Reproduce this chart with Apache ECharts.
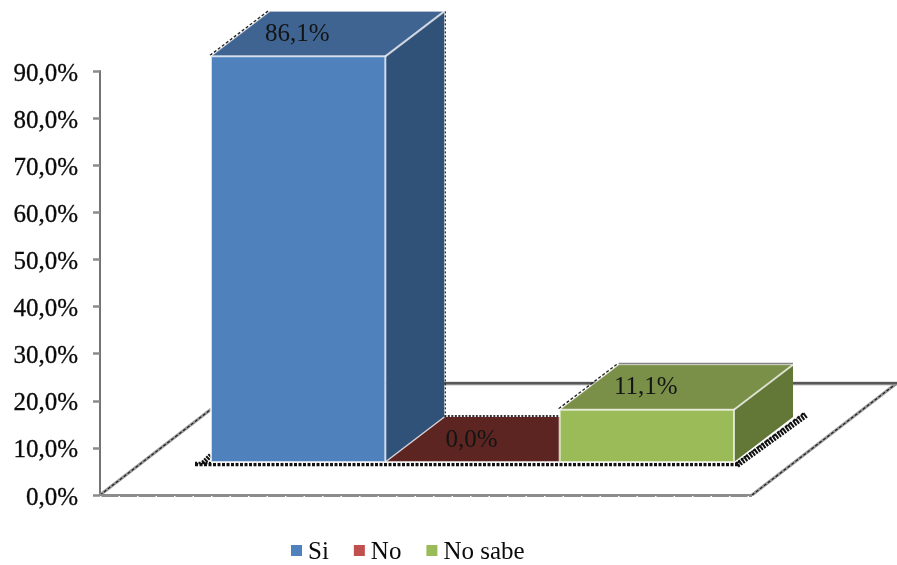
<!DOCTYPE html>
<html>
<head>
<meta charset="utf-8">
<style>html,body{margin:0;padding:0;background:#fff}#chart{width:897px;height:565px}</style>
<script src="https://cdn.jsdelivr.net/npm/echarts@6/dist/echarts.min.js"></script>
</head>
<body>
<div id="chart"></div>
<script>
// Answers and their shares, in percent
const categories = ['Si', 'No', 'No sabe'];
const percentages = [86.1, 0.0, 11.1];
const frontColors = ['#4F81BD', '#C0504D', '#9BBB59'];
const topColors = ['#3F6491', '#5C2522', '#7A8F47'];
const sideColors = ['#315278', '#4A1E1C', '#637736'];
const yTicks = { min: 0, max: 90, step: 10 };

// Oblique projection used for the box depth and the floor, in pixels
const BOX_DEPTH = { x: 59, y: 45 };
const LIFT = 33;            // bars stand this far above the front edge of the floor
const AXIS_GAP = 111;       // distance from the value axis to the first bar
const FLOOR = { width: 652, x: 145, y: 112 };

const serif = '"Liberation Serif", "Times New Roman", serif';
const fmt = v => v.toFixed(1).replace('.', ',') + '%';

function poly(points, fill) {
  return { type: 'polygon', shape: { points }, style: { fill, stroke: 'none' } };
}
function line(points, stroke, lineWidth, dash) {
  return {
    type: 'polyline',
    shape: { points },
    style: { fill: 'none', stroke, lineWidth, lineDash: dash || null }
  };
}

// Floor plane with its hatched shadow lines, anchored on the axis origin
function renderFloor(params, api) {
  const band = api.size([1, 0])[0];
  const origin = api.coord([0, 0]);
  const x0 = origin[0] - band / 2;
  const y0 = origin[1];
  const fl = x0 - AXIS_GAP;
  const fr = fl + FLOOR.width;
  const base = y0 - LIFT;
  const right = x0 + band * 3;
  const backY = y0 - FLOOR.y;
  return {
    type: 'group',
    children: [
      line([[fl, y0], [fl + FLOOR.x, backY]], '#999', 3),
      line([[fl, y0], [fl + FLOOR.x, backY]], '#222', 1.2, [3, 2]),
      line([[fr, y0], [fr + FLOOR.x, backY]], '#999', 3),
      line([[fr, y0], [fr + FLOOR.x, backY]], '#222', 1.2, [3, 2]),
      line([[fl + FLOOR.x, backY + 0.5], [fr + FLOOR.x, backY + 0.5]], '#8c8c8c', 3.5),
      line([[fl + FLOOR.x, backY], [fr + FLOOR.x, backY]], '#222', 1.2),
      line([[fl, y0 + 0.5], [fr, y0 + 0.5]], '#8c8c8c', 3),
      line([[fl, y0 + 1.5], [fr, y0 + 1.5]], '#fff', 1, [1.5, 17]),
      line([[x0 - 16, base + 2.5], [right + 6, base + 2.5]], '#111', 3.5, [3, 1.5]),
      line([[x0 - 8, base + 1], [x0, base - 7]], '#111', 5, [2, 1]),
      line([[x0 - 16, base + 1], [x0, base + 1]], '#111', 2.5, [2, 1.5]),
      line([[right + 3, base + 3], [right + BOX_DEPTH.x + 13, base - BOX_DEPTH.y - 2]], '#111', 6, [2, 1.2]),
      line([[right + 3, base + 1], [right + BOX_DEPTH.x + 11, base - BOX_DEPTH.y - 4]], '#111', 2, [3, 2]),
      line([[x0 + band + BOX_DEPTH.x, base - BOX_DEPTH.y - 1], [x0 + band * 2, base - BOX_DEPTH.y - 1]], '#333', 2, [2, 1.5])
    ]
  };
}

// One box per category; its height comes from the value axis
function renderBox(params, api) {
  const i = api.value(0);
  const v = api.value(1);
  const band = api.size([1, 0])[0];
  const half = band / 2;
  const base = api.coord([i, 0]);
  const top = api.coord([i, v]);
  const l = base[0] - half;
  const r = base[0] + half;
  const yb = base[1] - LIFT;
  const yt = top[1] - LIFT;
  const dx = BOX_DEPTH.x;
  const dy = BOX_DEPTH.y;
  const tall = v > 50;
  const edge = 'rgba(255,255,255,0.72)';
  const children = [];
  if (v > 0) {
    // dotted silhouette behind the box
    children.push(line([[l - 1, yt - 1], [l + dx - 1, yt - dy - 1]], '#222', 1.4, [3, 2]));
    if (tall) {
      children.push(line([[r + dx + 1, yt - dy], [r + dx + 1, yb - dy]], '#222', 1.2, [2, 2]));
    } else {
      children.push(line([[l + dx, yt - dy - 1], [r + dx, yt - dy - 1]], '#858585', 2));
    }
    children.push(poly([[r, yt], [r + dx, yt - dy], [r + dx, yb - dy], [r, yb]], sideColors[i]));
  }
  children.push(poly([[l, yt], [l + dx, yt - dy], [r + dx, yt - dy], [r, yt]], topColors[i]));
  if (v > 0) {
    children.push(poly([[l, yt], [r, yt], [r, yb], [l, yb]], frontColors[i]));
    children.push(line([[l, yb], [l, yt], [r, yt], [r, yb], [l, yb]], edge, 2));
    children.push(line([[r, yt], [r + dx, yt - dy]], edge, 2));
    children.push(line([[l, yt], [l + dx, yt - dy], [r + dx, yt - dy]], 'rgba(255,255,255,0.45)', 1.2));
  } else {
    children.push(line([[l, yb], [r, yb]], edge, 2));
    children.push(line([[l, yt], [l + dx, yt - dy]], edge, 1.5));
  }
  children.push({
    type: 'text',
    x: base[0] - 1,
    y: yt - 22,
    z2: 20,
    style: {
      text: fmt(v),
      font: '25px ' + serif,
      fill: '#141414',
      align: 'center',
      verticalAlign: 'middle'
    }
  });
  return { type: 'group', children };
}

const boxSeries = categories.map((name, i) => ({
  name,
  type: 'custom',
  z: 3 + i,
  itemStyle: { color: frontColors[i] },
  encode: { x: 0, y: 1 },
  data: [[i, percentages[i]]],
  renderItem: renderBox
}));

const chart = echarts.init(document.getElementById('chart'), null, { renderer: 'canvas' });
chart.setOption({
  animation: false,
  backgroundColor: '#fff',
  grid: { left: 211, right: 163, top: 71, bottom: 70 },
  xAxis: { type: 'category', data: categories, show: false },
  yAxis: {
    type: 'value',
    min: yTicks.min,
    max: yTicks.max,
    interval: yTicks.step,
    offset: AXIS_GAP,
    splitLine: { show: false },
    axisLine: { show: true, lineStyle: { color: '#737373', width: 2 } },
    axisTick: { show: true, length: 7, lineStyle: { color: '#8c8c8c', width: 2.5 } },
    axisLabel: {
      formatter: v => '{t|' + fmt(v) + '}',
      margin: 22,
      rich: {
        t: {
          padding: [6, 0, 0, 0],
          color: '#0a0a0a',
          fontFamily: serif,
          fontSize: 25,
          textBorderColor: '#0a0a0a',
          textBorderWidth: 0.3
        }
      }
    }
  },
  legend: {
    data: categories,
    left: 286,
    top: 535,
    itemWidth: 11,
    itemHeight: 11,
    itemGap: 25,
    icon: 'rect',
    formatter: name => '{t|' + name + '}',
    textStyle: {
      rich: {
        t: { fontFamily: serif, fontSize: 25, color: '#0a0a0a', padding: [4, 0, 0, 1] }
      }
    }
  },
  series: [
    { name: 'floor', type: 'custom', z: 1, silent: true, data: [[0, 0]], renderItem: renderFloor }
  ].concat(boxSeries)
});
</script>
</body>
</html>
